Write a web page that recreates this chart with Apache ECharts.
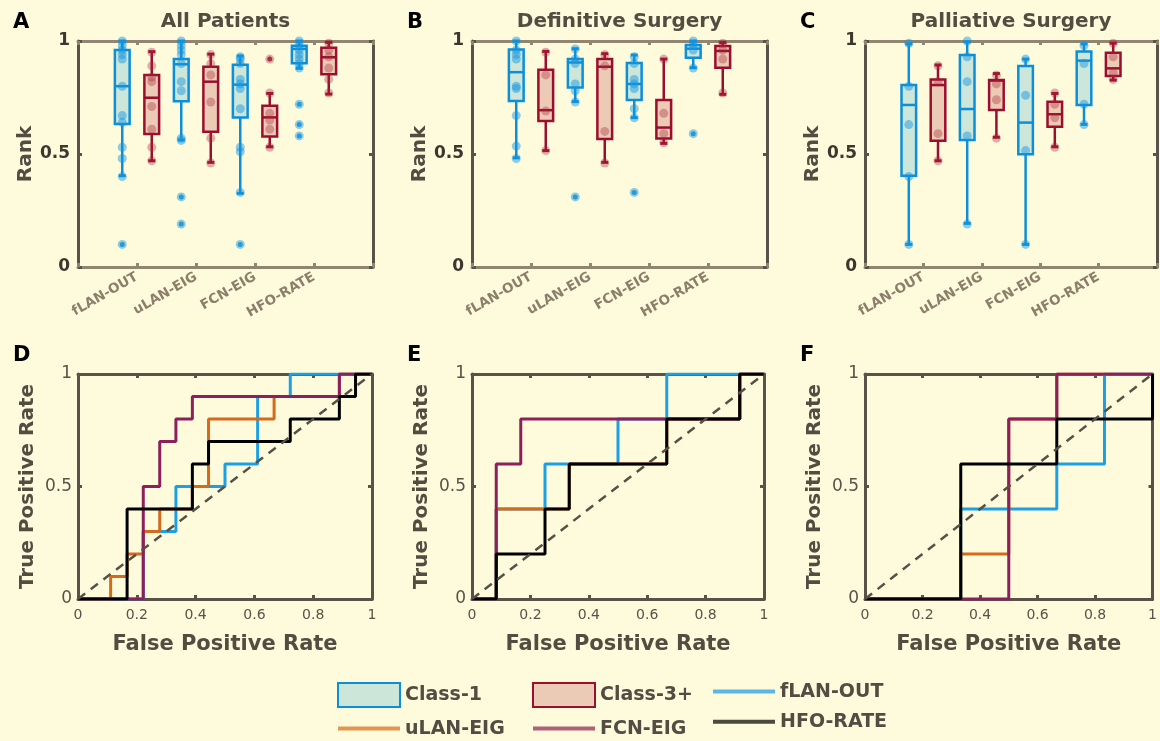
<!DOCTYPE html>
<html>
<head>
<meta charset="utf-8">
<script src="https://cdn.jsdelivr.net/npm/echarts@6/dist/echarts.min.js"></script>
<style>
html,body{margin:0;padding:0;background:#fefbdd;}
#chart{width:1160px;height:741px;}
</style>
</head>
<body>
<div id="chart"></div>
<script>
// ---------------- DATA ----------------
const categories = ['fLAN-OUT', 'uLAN-EIG', 'FCN-EIG', 'HFO-RATE'];
const panelTitles = ['All Patients', 'Definitive Surgery', 'Palliative Surgery'];
const panelLetters = ['A', 'B', 'C', 'D', 'E', 'F'];
const classNames = ['Class-1', 'Class-3+'];
const rocNames = ['fLAN-OUT', 'uLAN-EIG', 'FCN-EIG', 'HFO-RATE'];

// box stats per category: [lower whisker, Q1, median, Q3, upper whisker]
const boxA_class1 = [[0.404, 0.633, 0.800, 0.960, 1.000], [0.562, 0.733, 0.897, 0.920, 1.000], [0.326, 0.661, 0.807, 0.895, 0.934], [0.879, 0.901, 0.965, 0.979, 1.000]];
const boxA_class3 = [[0.470, 0.588, 0.749, 0.850, 0.953], [0.463, 0.599, 0.820, 0.886, 0.942], [0.532, 0.577, 0.662, 0.714, 0.768], [0.765, 0.853, 0.928, 0.970, 0.994]];
const boxB_class1 = [[0.483, 0.734, 0.862, 0.962, 1.000], [0.732, 0.794, 0.905, 0.920, 0.966], [0.661, 0.739, 0.810, 0.903, 0.938], [0.882, 0.926, 0.966, 0.982, 1.000]];
const boxB_class3 = [[0.515, 0.646, 0.694, 0.873, 0.954], [0.463, 0.566, 0.886, 0.920, 0.944], [0.547, 0.569, 0.617, 0.739, 0.920], [0.764, 0.882, 0.956, 0.978, 0.993]];
const boxC_class1 = [[0.100, 0.404, 0.717, 0.805, 0.987], [0.193, 0.562, 0.699, 0.938, 0.996], [0.100, 0.499, 0.639, 0.889, 0.920], [0.631, 0.717, 0.913, 0.953, 0.987]];
const boxC_class3 = [[0.470, 0.559, 0.805, 0.830, 0.894], [0.574, 0.695, 0.825, 0.827, 0.856], [0.532, 0.621, 0.676, 0.731, 0.768], [0.827, 0.845, 0.879, 0.948, 0.990]];

// individual ranks (translucent dots)
const dotsA_class1 = [[1.00, 0.98, 0.96, 0.94, 0.92, 0.80, 0.67, 0.64, 0.53, 0.48, 0.40, 0.10], [1.00, 0.98, 0.96, 0.94, 0.90, 0.82, 0.78, 0.57, 0.56, 0.31, 0.19], [0.93, 0.92, 0.90, 0.83, 0.81, 0.79, 0.70, 0.53, 0.51, 0.33, 0.10], [1.00, 0.98, 0.96, 0.94, 0.92, 0.90, 0.88, 0.72, 0.63, 0.58]];
const dotsA_class3 = [[0.95, 0.89, 0.84, 0.82, 0.71, 0.61, 0.53, 0.47], [0.94, 0.90, 0.85, 0.73, 0.57, 0.46], [0.92, 0.77, 0.68, 0.65, 0.61, 0.53], [0.99, 0.96, 0.93, 0.88, 0.83, 0.77]];
const dotsB_class1 = [[1.00, 0.96, 0.94, 0.92, 0.80, 0.79, 0.67, 0.535, 0.48], [0.965, 0.92, 0.90, 0.81, 0.78, 0.73, 0.31], [0.93, 0.90, 0.83, 0.81, 0.79, 0.70, 0.66, 0.33], [1.00, 0.98, 0.96, 0.88, 0.59]];
const dotsB_class3 = [[0.95, 0.85, 0.69, 0.515], [0.94, 0.89, 0.60, 0.46], [0.92, 0.68, 0.59, 0.55], [0.99, 0.96, 0.92, 0.77]];
const dotsC_class1 = [[0.99, 0.80, 0.63, 0.40, 0.10], [1.00, 0.93, 0.82, 0.58, 0.19], [0.92, 0.76, 0.515, 0.10], [0.98, 0.90, 0.72, 0.63]];
const dotsC_class3 = [[0.89, 0.82, 0.59, 0.47], [0.85, 0.81, 0.74, 0.57], [0.77, 0.72, 0.66, 0.53], [0.99, 0.93, 0.86, 0.83]];

// outliers
const outA_class1 = [[0.10], [0.31, 0.19], [0.10], [0.72, 0.63, 0.58]];
const outA_class3 = [[], [], [0.92], []];
const outB_class1 = [[], [0.31], [0.33], [0.59]];
const outB_class3 = [[], [], [], []];
const outC_class1 = [[], [], [], []];
const outC_class3 = [[], [], [], []];

// ROC curves [FPR, TPR]
const rocD_fLAN = [[0, 0], [0.222, 0], [0.222, 0.3], [0.333, 0.3], [0.333, 0.5], [0.5, 0.5], [0.5, 0.6], [0.611, 0.6], [0.611, 0.9], [0.722, 0.9], [0.722, 1], [1, 1]];
const rocD_uLAN = [[0, 0], [0.111, 0], [0.111, 0.1], [0.167, 0.1], [0.167, 0.2], [0.222, 0.2], [0.222, 0.3], [0.278, 0.3], [0.278, 0.4], [0.389, 0.4], [0.389, 0.5], [0.444, 0.5], [0.444, 0.8], [0.667, 0.8], [0.667, 0.9], [0.889, 0.9], [0.889, 1], [1, 1]];
const rocD_FCN = [[0, 0], [0.222, 0], [0.222, 0.5], [0.278, 0.5], [0.278, 0.7], [0.333, 0.7], [0.333, 0.8], [0.389, 0.8], [0.389, 0.9], [0.889, 0.9], [0.889, 1], [1, 1]];
const rocD_HFO = [[0, 0], [0.167, 0], [0.167, 0.4], [0.389, 0.4], [0.389, 0.6], [0.444, 0.6], [0.444, 0.7], [0.722, 0.7], [0.722, 0.8], [0.889, 0.8], [0.889, 0.9], [0.944, 0.9], [0.944, 1], [1, 1]];

const rocE_fLAN = [[0, 0], [0.083, 0], [0.083, 0.4], [0.25, 0.4], [0.25, 0.6], [0.5, 0.6], [0.5, 0.8], [0.667, 0.8], [0.667, 1], [1, 1]];
const rocE_uLAN = [[0, 0], [0.083, 0], [0.083, 0.4], [0.333, 0.4], [0.333, 0.6], [0.667, 0.6], [0.667, 0.8], [0.917, 0.8], [0.917, 1], [1, 1]];
const rocE_FCN = [[0, 0], [0.083, 0], [0.083, 0.6], [0.167, 0.6], [0.167, 0.8], [0.917, 0.8], [0.917, 1], [1, 1]];
const rocE_HFO = [[0, 0], [0.083, 0], [0.083, 0.2], [0.25, 0.2], [0.25, 0.4], [0.333, 0.4], [0.333, 0.6], [0.667, 0.6], [0.667, 0.8], [0.917, 0.8], [0.917, 1], [1, 1]];

const rocF_fLAN = [[0, 0], [0.333, 0], [0.333, 0.4], [0.667, 0.4], [0.667, 0.6], [0.833, 0.6], [0.833, 1], [1, 1]];
const rocF_uLAN = [[0, 0], [0.333, 0], [0.333, 0.2], [0.5, 0.2], [0.5, 0.8], [0.667, 0.8], [0.667, 1], [1, 1]];
const rocF_FCN = [[0, 0], [0.5, 0], [0.5, 0.8], [0.667, 0.8], [0.667, 1], [1, 1]];
const rocF_HFO = [[0, 0], [0.333, 0], [0.333, 0.6], [0.667, 0.6], [0.667, 0.8], [1, 0.8], [1, 1]];

const chanceLine = [[0, 0], [1, 1]];

// ---------------- STYLE / LAYOUT ----------------
const FONT = 'DejaVu Sans';
const BG = '#fefbdd';
const AX_DARK = '#5a5148';
const AX_LIGHT = '#918571';
const BOX_STROKE = ['#0b8fd9', '#9c0e2e'];
const BOX_FILL = ['#cde6da', '#ebcbb5'];
const DOT_COLOR = ['rgba(20,150,225,0.6)', 'rgba(170,40,60,0.45)'];
const ROC_COLOR = ['#1ba0e4', '#d5691c', '#8c1f5d', '#000000'];
const ROC_LEGEND_COLOR = ['#5bb5e5', '#e0964f', '#ad617b', '#4b483f'];
const BOX_W = 0.25;
const OFFSETS = [-0.25, 0.25];

const boxGrids = [
  {left: 78, top: 41, width: 295, height: 226},
  {left: 472, top: 41, width: 295, height: 226},
  {left: 865, top: 41, width: 292, height: 226}
];
const rocGrids = [
  {left: 78, top: 374, width: 294, height: 225},
  {left: 472, top: 374, width: 292, height: 225},
  {left: 865, top: 374, width: 293, height: 225}
];

const boxPanels = [
  {box: [boxA_class1, boxA_class3], dots: [dotsA_class1, dotsA_class3], out: [outA_class1, outA_class3]},
  {box: [boxB_class1, boxB_class3], dots: [dotsB_class1, dotsB_class3], out: [outB_class1, outB_class3]},
  {box: [boxC_class1, boxC_class3], dots: [dotsC_class1, dotsC_class3], out: [outC_class1, outC_class3]}
];
const rocPanels = [
  [rocD_fLAN, rocD_uLAN, rocD_FCN, rocD_HFO],
  [rocE_fLAN, rocE_uLAN, rocE_FCN, rocE_HFO],
  [rocF_fLAN, rocF_uLAN, rocF_FCN, rocF_HFO]
];

function makeBoxRender(stroke, fill) {
  return function (params, api) {
    const x = api.value(0);
    const lo = api.coord([x, api.value(1)]);
    const q1 = api.coord([x, api.value(2)]);
    const md = api.coord([x, api.value(3)]);
    const q3 = api.coord([x, api.value(4)]);
    const hi = api.coord([x, api.value(5)]);
    const hw = api.size([BOX_W, 0])[0] / 2;
    const cx = lo[0];
    const cap = 3.5;
    const lw = 2.5;
    return {
      type: 'group',
      children: [
        {type: 'line', shape: {x1: cx, y1: hi[1], x2: cx, y2: q3[1]}, style: {stroke: stroke, lineWidth: lw}},
        {type: 'line', shape: {x1: cx, y1: q1[1], x2: cx, y2: lo[1]}, style: {stroke: stroke, lineWidth: lw}},
        {type: 'line', shape: {x1: cx - cap, y1: hi[1], x2: cx + cap, y2: hi[1]}, style: {stroke: stroke, lineWidth: 3}},
        {type: 'line', shape: {x1: cx - cap, y1: lo[1], x2: cx + cap, y2: lo[1]}, style: {stroke: stroke, lineWidth: 3}},
        {type: 'rect', shape: {x: cx - hw, y: q3[1], width: 2 * hw, height: q1[1] - q3[1]}, style: {fill: fill, stroke: stroke, lineWidth: lw}},
        {type: 'line', shape: {x1: cx - hw, y1: md[1], x2: cx + hw, y2: md[1]}, style: {stroke: stroke, lineWidth: lw}}
      ]
    };
  };
}

const grids = [];
const xAxes = [];
const yAxes = [];
const series = [];
const titles = [];

function frameAxes(gi, xColor, yColor, xCfg, yCfg) {
  const tick = (c) => ({show: true, inside: true, length: 4, lineStyle: {color: c, width: 3}});
  xAxes.push(Object.assign({
    gridIndex: gi, type: 'value', position: 'bottom',
    axisLine: {show: true, onZero: false, lineStyle: {color: xColor, width: 3}},
    axisTick: tick(xColor), splitLine: {show: false}
  }, xCfg));
  xAxes.push(Object.assign({}, xCfg, {
    gridIndex: gi, type: 'value', position: 'top', name: '',
    axisLine: {show: true, onZero: false, lineStyle: {color: xColor, width: 3}},
    axisTick: tick(xColor), axisLabel: {show: false}, splitLine: {show: false}
  }));
  yAxes.push(Object.assign({
    gridIndex: gi, type: 'value', position: 'left',
    axisLine: {show: true, onZero: false, lineStyle: {color: yColor, width: 3}},
    axisTick: tick(yColor), splitLine: {show: false}
  }, yCfg));
  yAxes.push(Object.assign({}, yCfg, {
    gridIndex: gi, type: 'value', position: 'right', name: '',
    axisLine: {show: true, onZero: false, lineStyle: {color: yColor, width: 3}},
    axisTick: tick(yColor), axisLabel: {show: false}, splitLine: {show: false}
  }));
}

// box plot panels
boxGrids.forEach((g, p) => {
  const gi = grids.length;
  grids.push(Object.assign({show: false}, g));
  const axBase = xAxes.length;
  frameAxes(gi, AX_LIGHT, AX_DARK,
    {min: 0, max: 5, interval: 1,
     axisLabel: {show: true, rotate: 30, margin: 9, fontFamily: FONT, fontSize: 13.5, fontWeight: 'bold', color: '#8b7f6b',
                 formatter: (v) => categories[v - 1] || ''}},
    {min: 0, max: 1, interval: 0.5, name: 'Rank', nameLocation: 'middle', nameGap: 40,
     nameTextStyle: {fontFamily: FONT, fontSize: 20, fontWeight: 'bold', color: '#544b41'},
     axisLabel: {show: true, margin: 8, fontFamily: FONT, fontSize: 17, fontWeight: 'bold', color: '#3f372f'}});
  const panel = boxPanels[p];
  [0, 1].forEach((c) => {
    series.push({
      type: 'custom', name: classNames[c], xAxisIndex: axBase, yAxisIndex: axBase, z: 2,
      renderItem: makeBoxRender(BOX_STROKE[c], BOX_FILL[c]),
      encode: {x: 0, y: [1, 2, 3, 4, 5]},
      data: panel.box[c].map((s, i) => [i + 1 + OFFSETS[c]].concat(s))
    });
  });
  [0, 1].forEach((c) => {
    const pts = [];
    panel.dots[c].forEach((arr, i) => arr.forEach((v) => pts.push([i + 1 + OFFSETS[c], v])));
    series.push({
      type: 'scatter', xAxisIndex: axBase, yAxisIndex: axBase, z: 3, symbol: 'circle', symbolSize: 9,
      itemStyle: {color: DOT_COLOR[c]}, data: pts
    });
    const outs = [];
    panel.out[c].forEach((arr, i) => arr.forEach((v) => outs.push([i + 1 + OFFSETS[c], v])));
    series.push({
      type: 'scatter', xAxisIndex: axBase, yAxisIndex: axBase, z: 4, symbol: 'circle', symbolSize: 5,
      itemStyle: {color: BOX_STROKE[c]}, data: outs
    });
  });
  titles.push({text: panelTitles[p], left: g.left + g.width / 2, top: 12, textAlign: 'center', padding: 0,
               textStyle: {fontFamily: FONT, fontSize: 20, fontWeight: 'bold', color: '#544b41'}});
  titles.push({text: panelLetters[p], left: g.left - 65, top: 12, padding: 0,
               textStyle: {fontFamily: FONT, fontSize: 21, fontWeight: 'bold', color: '#000'}});
});

// ROC panels
rocGrids.forEach((g, p) => {
  const gi = grids.length;
  grids.push(Object.assign({show: false}, g));
  const axBase = xAxes.length;
  frameAxes(gi, AX_DARK, AX_DARK,
    {min: 0, max: 1, interval: 0.2, name: 'False Positive Rate', nameLocation: 'middle', nameGap: 35,
     nameTextStyle: {fontFamily: FONT, fontSize: 21, fontWeight: 'bold', color: '#544b41'},
     axisLabel: {show: true, margin: 9, fontFamily: FONT, fontSize: 14, color: '#5a5248'}},
    {min: 0, max: 1, interval: 0.5, name: 'True Positive Rate', nameLocation: 'middle', nameGap: 40,
     nameTextStyle: {fontFamily: FONT, fontSize: 20, fontWeight: 'bold', color: '#544b41'},
     axisLabel: {show: true, margin: 6, fontFamily: FONT, fontSize: 17, color: '#5a5248'}});
  rocPanels[p].forEach((curve, k) => {
    series.push({
      type: 'line', name: rocNames[k], xAxisIndex: axBase, yAxisIndex: axBase, z: 2 + k,
      symbol: 'none', showSymbol: false, lineStyle: {color: ROC_COLOR[k], width: 3},
      itemStyle: {color: ROC_COLOR[k]}, data: curve
    });
  });
  series.push({
    type: 'line', xAxisIndex: axBase, yAxisIndex: axBase, z: 8, symbol: 'none', showSymbol: false,
    lineStyle: {color: '#575047', width: 2.5, type: [9, 7]}, data: chanceLine
  });
  titles.push({text: panelLetters[p + 3], left: g.left - 65, top: 345, padding: 0,
               textStyle: {fontFamily: FONT, fontSize: 21, fontWeight: 'bold', color: '#000'}});
});

const legendText = {fontFamily: FONT, fontSize: 19, fontWeight: 'bold', color: '#544c42'};
function boxLegendItem(c) {
  return {name: classNames[c], icon: 'rect', itemStyle: {color: BOX_FILL[c], borderColor: BOX_STROKE[c], borderWidth: 2}};
}
function lineLegendItem(k) {
  return {name: rocNames[k],
          itemStyle: {color: 'rgba(0,0,0,0)', borderColor: 'rgba(0,0,0,0)', borderWidth: 0, opacity: 0},
          lineStyle: {color: ROC_LEGEND_COLOR[k], width: 4, opacity: 1}};
}
const legendCommon = {orient: 'vertical', itemWidth: 62, itemHeight: 24, itemGap: 11, padding: 0,
                      selectedMode: false, textStyle: legendText};

const option = {
  backgroundColor: BG,
  animation: false,
  textStyle: {fontFamily: FONT},
  title: titles,
  grid: grids,
  xAxis: xAxes,
  yAxis: yAxes,
  legend: [
    Object.assign({left: 336, top: 682, data: [boxLegendItem(0), lineLegendItem(1)]}, legendCommon),
    Object.assign({left: 531, top: 682, data: [boxLegendItem(1), lineLegendItem(2)]}, legendCommon),
    Object.assign({left: 711, top: 682, data: [lineLegendItem(0), lineLegendItem(3)]}, legendCommon)
  ],
  series: series
};

const chart = echarts.init(document.getElementById('chart'), null, {renderer: 'canvas'});
chart.setOption(option);
</script>
</body>
</html>
